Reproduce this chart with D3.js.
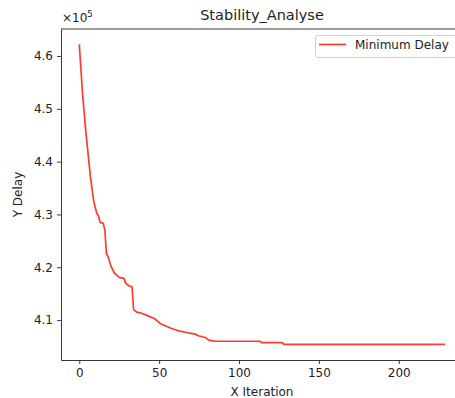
<!DOCTYPE html>
<html>
<head>
<meta charset="utf-8">
<script src="https://cdn.jsdelivr.net/npm/d3@7"></script>
<style>
  body { margin: 0; background: #fff; }
  text { font-family: "DejaVu Sans", sans-serif; fill: #222; }
</style>
</head>
<body>
<div id="chart"></div>
<script>
var W = 455, H = 398;

// (iteration, delay)
var iterations = [0, 2, 4, 7, 9, 11, 12, 13, 15, 16, 17, 18, 20, 22, 25, 28, 29, 31, 33, 34,
                  36, 39, 43, 47, 51, 57, 63, 68, 72, 75, 79, 81, 85, 113, 114, 127, 128, 229];
var delays = [462200, 453000, 446000, 437000, 432600, 430100, 429800, 428500, 428300, 427000,
              422600, 422000, 420100, 418900, 418100, 417900, 417000, 416500, 416300, 412000,
              411500, 411300, 410800, 410300, 409300, 408500, 407900, 407600, 407400, 407000,
              406700, 406200, 406000, 406000, 405750, 405750, 405400, 405400];
var xTicks = [0, 50, 100, 150, 200];
var yTicks = [410000, 420000, 430000, 440000, 450000, 460000];
var seriesName = "Minimum Delay";

var m = {left: 61, top: 29, bottom: 360};
var x = d3.scaleLinear().domain([-11.45, 240.45]).range([m.left, 463.4]);
var y = d3.scaleLinear().domain([402450, 465100]).range([m.bottom, m.top]);

var svg = d3.select("#chart").append("svg").attr("width", W).attr("height", H);

var data = iterations.map(function(d, i) { return [d, delays[i]]; });

svg.append("path")
    .datum(data)
    .attr("fill", "none")
    .attr("stroke", "#ff3b30")
    .attr("stroke-width", 1.7)
    .attr("stroke-linejoin", "round")
    .attr("d", d3.line().x(function(d){ return x(d[0]); }).y(function(d){ return y(d[1]); }));

// axes
var xAxis = svg.append("g").attr("transform", "translate(0," + m.bottom + ")")
    .call(d3.axisBottom(x).tickValues(xTicks).tickSize(4).tickSizeOuter(0).tickPadding(4)
      .tickFormat(d3.format("d")));
var yAxis = svg.append("g").attr("transform", "translate(" + m.left + ",0)")
    .call(d3.axisLeft(y).tickValues(yTicks).tickSize(4).tickSizeOuter(0).tickPadding(4)
      .tickFormat(function(d){ return (d / 1e5).toFixed(1); }));
[xAxis, yAxis].forEach(function(a) {
  a.selectAll("text").style("font-size", "12px").style("font-family", "DejaVu Sans").attr("fill", "#222");
  a.selectAll("line").attr("stroke", "#222").attr("stroke-width", 0.9);
  a.select(".domain").attr("stroke", "#222").attr("stroke-width", 0.9);
});

// top spine
svg.append("line").attr("x1", m.left).attr("x2", W).attr("y1", m.top).attr("y2", m.top)
    .attr("stroke", "#222").attr("stroke-width", 0.9);

// multiplier
var mult = svg.append("text").attr("x", 62).attr("y", 22).style("font-size", "12px");
mult.append("tspan").text("\u00d710");
mult.append("tspan").attr("dy", -5).style("font-size", "8.5px").text("5");

svg.append("text").attr("x", 262).attr("y", 20).attr("text-anchor", "middle")
    .style("font-size", "14.5px").text("Stability_Analyse");

svg.append("text").attr("x", 262).attr("y", 396).attr("text-anchor", "middle")
    .style("font-size", "12px").text("X Iteration");

svg.append("text").attr("transform", "translate(22," + ((m.top + m.bottom) / 2) + ") rotate(-90)")
    .attr("text-anchor", "middle").style("font-size", "12px").text("Y Delay");

// legend
var lg = svg.append("g");
lg.append("rect").attr("x", 315.5).attr("y", 35.5).attr("width", 150).attr("height", 22).attr("rx", 2.5)
    .attr("fill", "#fff").attr("fill-opacity", 0.8).attr("stroke", "#ccc").attr("stroke-width", 0.9);
lg.append("line").attr("x1", 319).attr("x2", 346).attr("y1", 44.5).attr("y2", 44.5)
    .attr("stroke", "#ff3b30").attr("stroke-width", 1.7);
lg.append("text").attr("x", 355).attr("y", 48.5).style("font-size", "12px").text(seriesName);
</script>
</body>
</html>
